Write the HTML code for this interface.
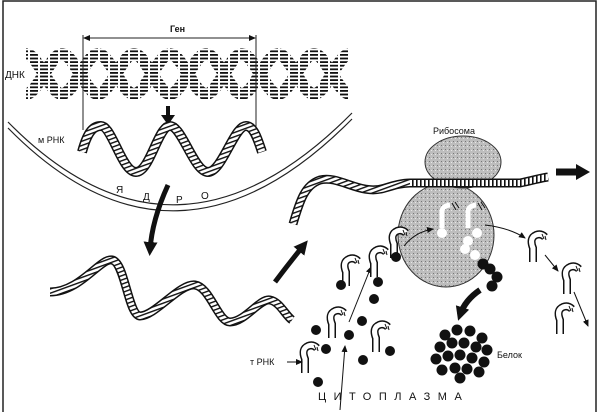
<!DOCTYPE html>
<html><head><meta charset="utf-8"><style>
html,body{margin:0;padding:0;background:#fff;}
svg{display:block;}
text{font-family:"Liberation Sans",sans-serif;fill:#111;}
</style></head><body>
<svg width="600" height="412" viewBox="0 0 600 412" xmlns="http://www.w3.org/2000/svg">
<defs>
<pattern id="hs" width="4" height="4" patternUnits="userSpaceOnUse" patternTransform="rotate(70)">
<rect width="4" height="4" fill="#fff"/><rect width="1.4" height="4" fill="#111"/></pattern>
<pattern id="dna" width="10" height="3.6" patternUnits="userSpaceOnUse">
<rect width="10" height="3.6" fill="#fff"/><rect x="0" y="0" width="8" height="1.8" fill="#111"/></pattern>
<pattern id="vs" width="4" height="4" patternUnits="userSpaceOnUse">
<rect width="4" height="4" fill="#fff"/><rect width="1.6" height="4" fill="#111"/></pattern>
<pattern id="stip" width="4" height="4" patternUnits="userSpaceOnUse">
<rect width="4" height="4" fill="#bdbdbd"/><rect x="1" y="1" width="1" height="1" fill="#777"/><rect x="3" y="2" width="1" height="1" fill="#e6e6e6"/></pattern>
<marker id="ah" markerWidth="8" markerHeight="8" refX="6" refY="4" orient="auto" markerUnits="userSpaceOnUse"><path d="M0,1 L7,4 L0,7 Z" fill="#111"/></marker>
<marker id="bh" markerWidth="16" markerHeight="16" refX="8" refY="8" orient="auto" markerUnits="userSpaceOnUse"><path d="M0,1 L14,8 L0,15 Z" fill="#111"/></marker>
<g id="t">
<path d="M6,30 L6,16 Q2,6 9,3 Q14,1 18,5" fill="none" stroke="#111" stroke-width="8"/>
<path d="M6,30 L6,16 Q2,6 9,3 Q14,1 18,5" fill="none" stroke="#fff" stroke-width="5"/>
<path d="M15,2 L17,7 M18,4 L19,8" stroke="#111" stroke-width="1"/>
</g>
</defs>
<path d="M3,412 L3,1 L596,1 L596,412" fill="none" stroke="#222" stroke-width="1.5"/>

<!-- DNA -->
<g stroke="url(#dna)" stroke-width="12" fill="none">
<path d="M26,54 C38,54 50,94 62,94 S86,54 98,54 S122,94 134,94 S158,54 170,54 S194,94 206,94 S230,54 242,54 S266,94 278,94 S302,54 314,54 S338,94 350,94"/>
<path d="M26,94 C38,94 50,54 62,54 S86,94 98,94 S122,54 134,54 S158,94 170,94 S194,54 206,54 S230,94 242,94 S266,54 278,54 S302,94 314,94 S338,54 350,54"/>
</g>
<text x="5" y="78" font-size="10">ДНК</text>
<path d="M83,35 L83,130 M256,35 L256,130" stroke="#222" stroke-width="1"/>
<path d="M84,38 L255,38" stroke="#222" stroke-width="1" marker-end="url(#ah)"/>
<path d="M255,38 L84,38" stroke="none" marker-end="url(#ah)"/>
<text x="170" y="32" font-size="9" font-weight="bold">Ген</text>
<path d="M168,106 L168,116" stroke="#111" stroke-width="4"/>
<path d="M161,115 L175,115 L168,125 Z" fill="#111"/>
<path d="M8,122 Q175,292 352,113" fill="none" stroke="#222" stroke-width="1.2"/>
<path d="M8,128 Q175,298 352,119" fill="none" stroke="#222" stroke-width="1.2"/>
<text x="38" y="143" font-size="9">м РНК</text>
<g font-size="10"><text x="116" y="193">Я</text><text x="143" y="200">Д</text><text x="176" y="203">Р</text><text x="201" y="199">О</text></g>
<path d="M82,152 C88,130 94,126 101,126 C112,126 122,172 136,172 C150,172 158,126 170,126 C182,126 194,172 208,172 C222,172 234,126 246,126 C254,126 258,140 262,152" fill="none" stroke="#111" stroke-width="10"/>
<path d="M82,152 C88,130 94,126 101,126 C112,126 122,172 136,172 C150,172 158,126 170,126 C182,126 194,172 208,172 C222,172 234,126 246,126 C254,126 258,140 262,152" fill="none" stroke="url(#hs)" stroke-width="7"/>
<path d="M168,185 Q152,220 150,250" fill="none" stroke="#111" stroke-width="5" marker-end="url(#bh)"/>
<path d="M50,292 C80,292 100,258 112,260 C125,262 128,315 140,316 C155,316 180,283 195,285 C210,287 218,322 230,322 C245,322 260,298 270,300 C280,302 285,315 292,320" fill="none" stroke="#111" stroke-width="9"/>
<path d="M50,292 C80,292 100,258 112,260 C125,262 128,315 140,316 C155,316 180,283 195,285 C210,287 218,322 230,322 C245,322 260,298 270,300 C280,302 285,315 292,320" fill="none" stroke="url(#hs)" stroke-width="6"/>
<path d="M275,282 Q290,262 304,245" fill="none" stroke="#111" stroke-width="5" marker-end="url(#bh)"/>
<ellipse cx="446" cy="235" rx="48" ry="52" fill="url(#stip)" stroke="#333" stroke-width="1"/>
<ellipse cx="463" cy="162" rx="38" ry="26" fill="url(#stip)" stroke="#333" stroke-width="1"/>
<text x="433" y="134" font-size="9">Рибосома</text>
<path d="M293,224 C300,200 305,185 320,180 C340,175 360,196 385,188 C395,185 402,183 410,183 L520,183 C535,180 540,178 548,177" fill="none" stroke="#111" stroke-width="9"/>
<path d="M293,224 C300,200 305,185 320,180 C340,175 360,196 385,188 C395,185 402,183 410,183" fill="none" stroke="url(#hs)" stroke-width="6"/>
<path d="M410,183 L520,183 C535,180 540,178 548,177" fill="none" stroke="url(#vs)" stroke-width="6"/>
<path d="M556,172 L578,172" stroke="#111" stroke-width="7"/>
<path d="M576,164 L590,172 L576,180 Z" fill="#111"/>
<g stroke="#fff" fill="none" stroke-width="5"><path d="M442,228 L442,214 Q441,206 450,205"/><path d="M468,228 L468,214 Q467,206 476,205"/></g>
<g stroke="#111" stroke-width="1"><path d="M452,203 L456,210 M455,202 L459,208 M478,203 L482,210 M481,202 L485,208"/></g>
<g fill="#fff"><circle cx="442" cy="233" r="5"/><circle cx="477" cy="233" r="5"/><circle cx="468" cy="241" r="5"/><circle cx="465" cy="249" r="5"/><circle cx="475" cy="255" r="5"/></g>
<g fill="#111"><circle cx="483" cy="264" r="5.5"/><circle cx="490" cy="269" r="5.5"/><circle cx="497" cy="277" r="5.5"/><circle cx="492" cy="286" r="5.5"/></g>
<path d="M480,290 Q465,300 460,315" fill="none" stroke="#111" stroke-width="6" marker-end="url(#bh)"/>
<g fill="#111">
<circle cx="445" cy="335" r="5.5"/><circle cx="457" cy="330" r="5.5"/><circle cx="470" cy="331" r="5.5"/><circle cx="482" cy="338" r="5.5"/>
<circle cx="440" cy="347" r="5.5"/><circle cx="452" cy="343" r="5.5"/><circle cx="464" cy="343" r="5.5"/><circle cx="476" cy="347" r="5.5"/><circle cx="487" cy="350" r="5.5"/>
<circle cx="436" cy="359" r="5.5"/><circle cx="448" cy="356" r="5.5"/><circle cx="460" cy="355" r="5.5"/><circle cx="472" cy="358" r="5.5"/><circle cx="484" cy="362" r="5.5"/>
<circle cx="442" cy="370" r="5.5"/><circle cx="455" cy="368" r="5.5"/><circle cx="467" cy="369" r="5.5"/><circle cx="479" cy="372" r="5.5"/><circle cx="460" cy="378" r="5.5"/>
</g>
<text x="497" y="358" font-size="9">Белок</text>
<use href="#t" x="388" y="228"/><use href="#t" x="368" y="247"/><use href="#t" x="340" y="256"/>
<use href="#t" x="326" y="308"/><use href="#t" x="370" y="322"/><use href="#t" x="299" y="343"/>
<use href="#t" x="527" y="232"/><use href="#t" x="561" y="264"/><use href="#t" x="554" y="304"/>
<g fill="#111"><circle cx="396" cy="257" r="5"/><circle cx="341" cy="285" r="5"/><circle cx="378" cy="282" r="5"/><circle cx="374" cy="299" r="5"/><circle cx="362" cy="321" r="5"/><circle cx="316" cy="330" r="5"/><circle cx="349" cy="335" r="5"/><circle cx="326" cy="349" r="5"/><circle cx="390" cy="351" r="5"/><circle cx="363" cy="360" r="5"/><circle cx="318" cy="382" r="5"/></g>
<g fill="none" stroke="#111" stroke-width="1">
<path d="M404,246 Q415,232 433,229" marker-end="url(#ah)"/>
<path d="M485,225 Q510,228 525,238" marker-end="url(#ah)"/>
<path d="M545,255 L558,271" marker-end="url(#ah)"/>
<path d="M574,292 L588,326" marker-end="url(#ah)"/>
<path d="M349,322 L371,267" marker-end="url(#ah)"/>
<path d="M340,410 L345,346" marker-end="url(#ah)"/>
<path d="M287,362 L302,362" marker-end="url(#ah)"/>
</g>
<text x="250" y="365" font-size="9">т РНК</text>
<text x="318" y="400" font-size="11" letter-spacing="7.5">ЦИТОПЛАЗМА</text>
</svg>
</body></html>
